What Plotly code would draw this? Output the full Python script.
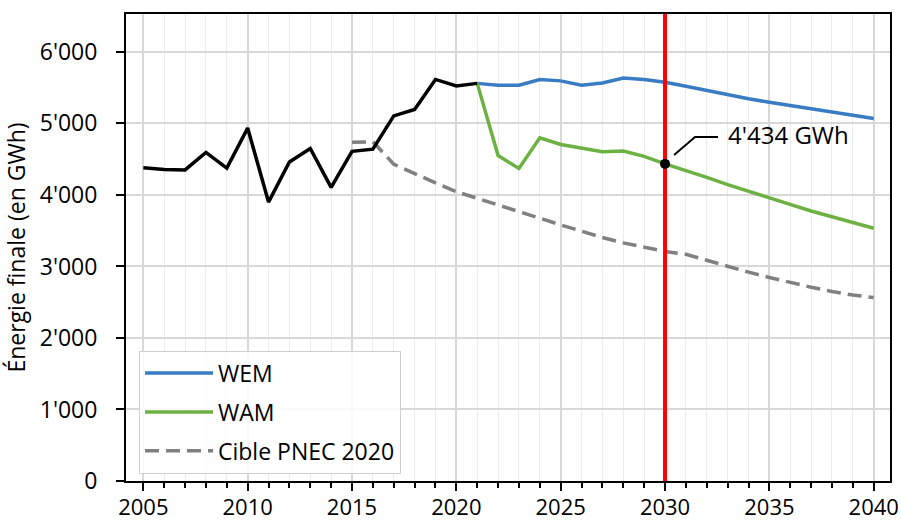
import plotly.graph_objects as go

# Historical final energy consumption (GWh)
hist_years = list(range(2005, 2022))
hist_values = [4380, 4355, 4350, 4595, 4375, 4935, 3900, 4460, 4650, 4105,
               4610, 4640, 5105, 5195, 5615, 5525, 5560]

# Scenario projections (GWh)
scen_years = list(range(2021, 2041))
wem_values = [5560, 5535, 5535, 5615, 5595, 5535, 5565, 5635, 5615, 5575,
              5520, 5460, 5400, 5345, 5295, 5250, 5205, 5160, 5115, 5070]
wam_values = [5560, 4550, 4370, 4800, 4705, 4650, 4605, 4615, 4540, 4434,
              4345, 4245, 4145, 4050, 3955, 3865, 3775, 3695, 3615, 3535]

# NECP 2020 target path (GWh)
target_years = list(range(2015, 2041))
target_values = [4735, 4745, 4430, 4295, 4170, 4045, 3955, 3860, 3765, 3675,
                 3580, 3490, 3405, 3330, 3275, 3210, 3170, 3085, 3000, 2920,
                 2845, 2775, 2710, 2650, 2600, 2565]

TARGET_YEAR = 2030
Y_MAX = 6530

FONT = "Open Sans, Noto Sans, sans-serif"
COLORS = {
    'hist': '#000000',
    'WEM': '#3a7cc3',
    'WAM': '#6db143',
    'target': '#808080',
    'marker': '#ff0000',
}


def fmt_gwh(v):
    return f"{v:,}".replace(",", "'") + " GWh"


fig = go.Figure()

fig.add_trace(go.Scatter(
    x=target_years, y=target_values, mode='lines', name='Cible PNEC 2020',
    line=dict(color=COLORS['target'], width=3.5, dash='14px,7px'),
    legendgroup='c', legendrank=3
))
fig.add_trace(go.Scatter(
    x=scen_years, y=wem_values, mode='lines', name='WEM',
    line=dict(color=COLORS['WEM'], width=3.5),
    legendgroup='a', legendrank=1
))
fig.add_trace(go.Scatter(
    x=scen_years, y=wam_values, mode='lines', name='WAM',
    line=dict(color=COLORS['WAM'], width=3.5),
    legendgroup='b', legendrank=2
))
fig.add_trace(go.Scatter(
    x=hist_years, y=hist_values, mode='lines', showlegend=False,
    line=dict(color=COLORS['hist'], width=3.5)
))
# vertical marker for the target year
fig.add_trace(go.Scatter(
    x=[TARGET_YEAR, TARGET_YEAR], y=[0, Y_MAX], mode='lines',
    showlegend=False, line=dict(color=COLORS['marker'], width=4)
))

wam_2030 = wam_values[scen_years.index(TARGET_YEAR)]
fig.add_trace(go.Scatter(
    x=[TARGET_YEAR], y=[wam_2030], mode='markers', showlegend=False,
    marker=dict(color='black', size=10)
))

# elbow leader line from the point to the label
fig.add_shape(
    type='path', xref='x', yref='y',
    xsizemode='pixel', ysizemode='pixel',
    xanchor=TARGET_YEAR, yanchor=wam_2030,
    path='M 9,9 L 30,27 L 53,27',
    line=dict(color='black', width=2), layer='above'
)
fig.add_annotation(
    x=TARGET_YEAR, y=wam_2030, text=fmt_gwh(wam_2030),
    showarrow=False, xanchor='left', yanchor='middle',
    xshift=61, yshift=29,
    font=dict(size=24, color='black', family=FONT)
)

axis_common = dict(
    showline=True, linecolor='black', linewidth=2, mirror=True,
    ticks='outside', tickcolor='black', tickwidth=1.5, ticklen=8,
    zeroline=False, automargin=False,
)

fig.update_xaxes(
    range=[2004.17, 2040.78], tick0=2005, dtick=5,
    ticklabelstandoff=-2,
    tickfont=dict(size=22, color='black', family=FONT),
    showgrid=True, gridcolor='#d8d8d8', gridwidth=1.5,
    minor=dict(dtick=1, tick0=2005, showgrid=True, gridcolor='#ececec',
               gridwidth=1.2, ticks='outside', ticklen=5, tickcolor='black'),
    **axis_common
)
fig.update_yaxes(
    range=[0, Y_MAX], tick0=0, dtick=1000, tickformat=',d',
    ticklabelstandoff=14,
    tickfont=dict(size=23, color='black', family=FONT),
    showgrid=True, gridcolor='#d8d8d8', gridwidth=1.5,
    title=dict(text='Énergie finale (en GWh)', standoff=8,
               font=dict(size=23, color='black', family=FONT)),
    **axis_common
)

fig.update_layout(
    width=901, height=521,
    margin=dict(l=126, r=11, t=14, b=40),
    paper_bgcolor='white', plot_bgcolor='white',
    separators=".'",
    font=dict(family=FONT, size=23, color='black'),
    legend=dict(
        x=0.017, y=0.016, xanchor='left', yanchor='bottom',
        bgcolor='rgba(255,255,255,0.85)', bordercolor='#d0d0d0', borderwidth=1,
        traceorder='grouped', tracegroupgap=6, itemwidth=68,
        font=dict(size=23, color='black', family=FONT)
    ),
)

# drop the default page margin so the figure sits at the window origin
fig.write_html("out.html", config={'displayModeBar': False},
               post_script="document.body.style.margin = '0';")
